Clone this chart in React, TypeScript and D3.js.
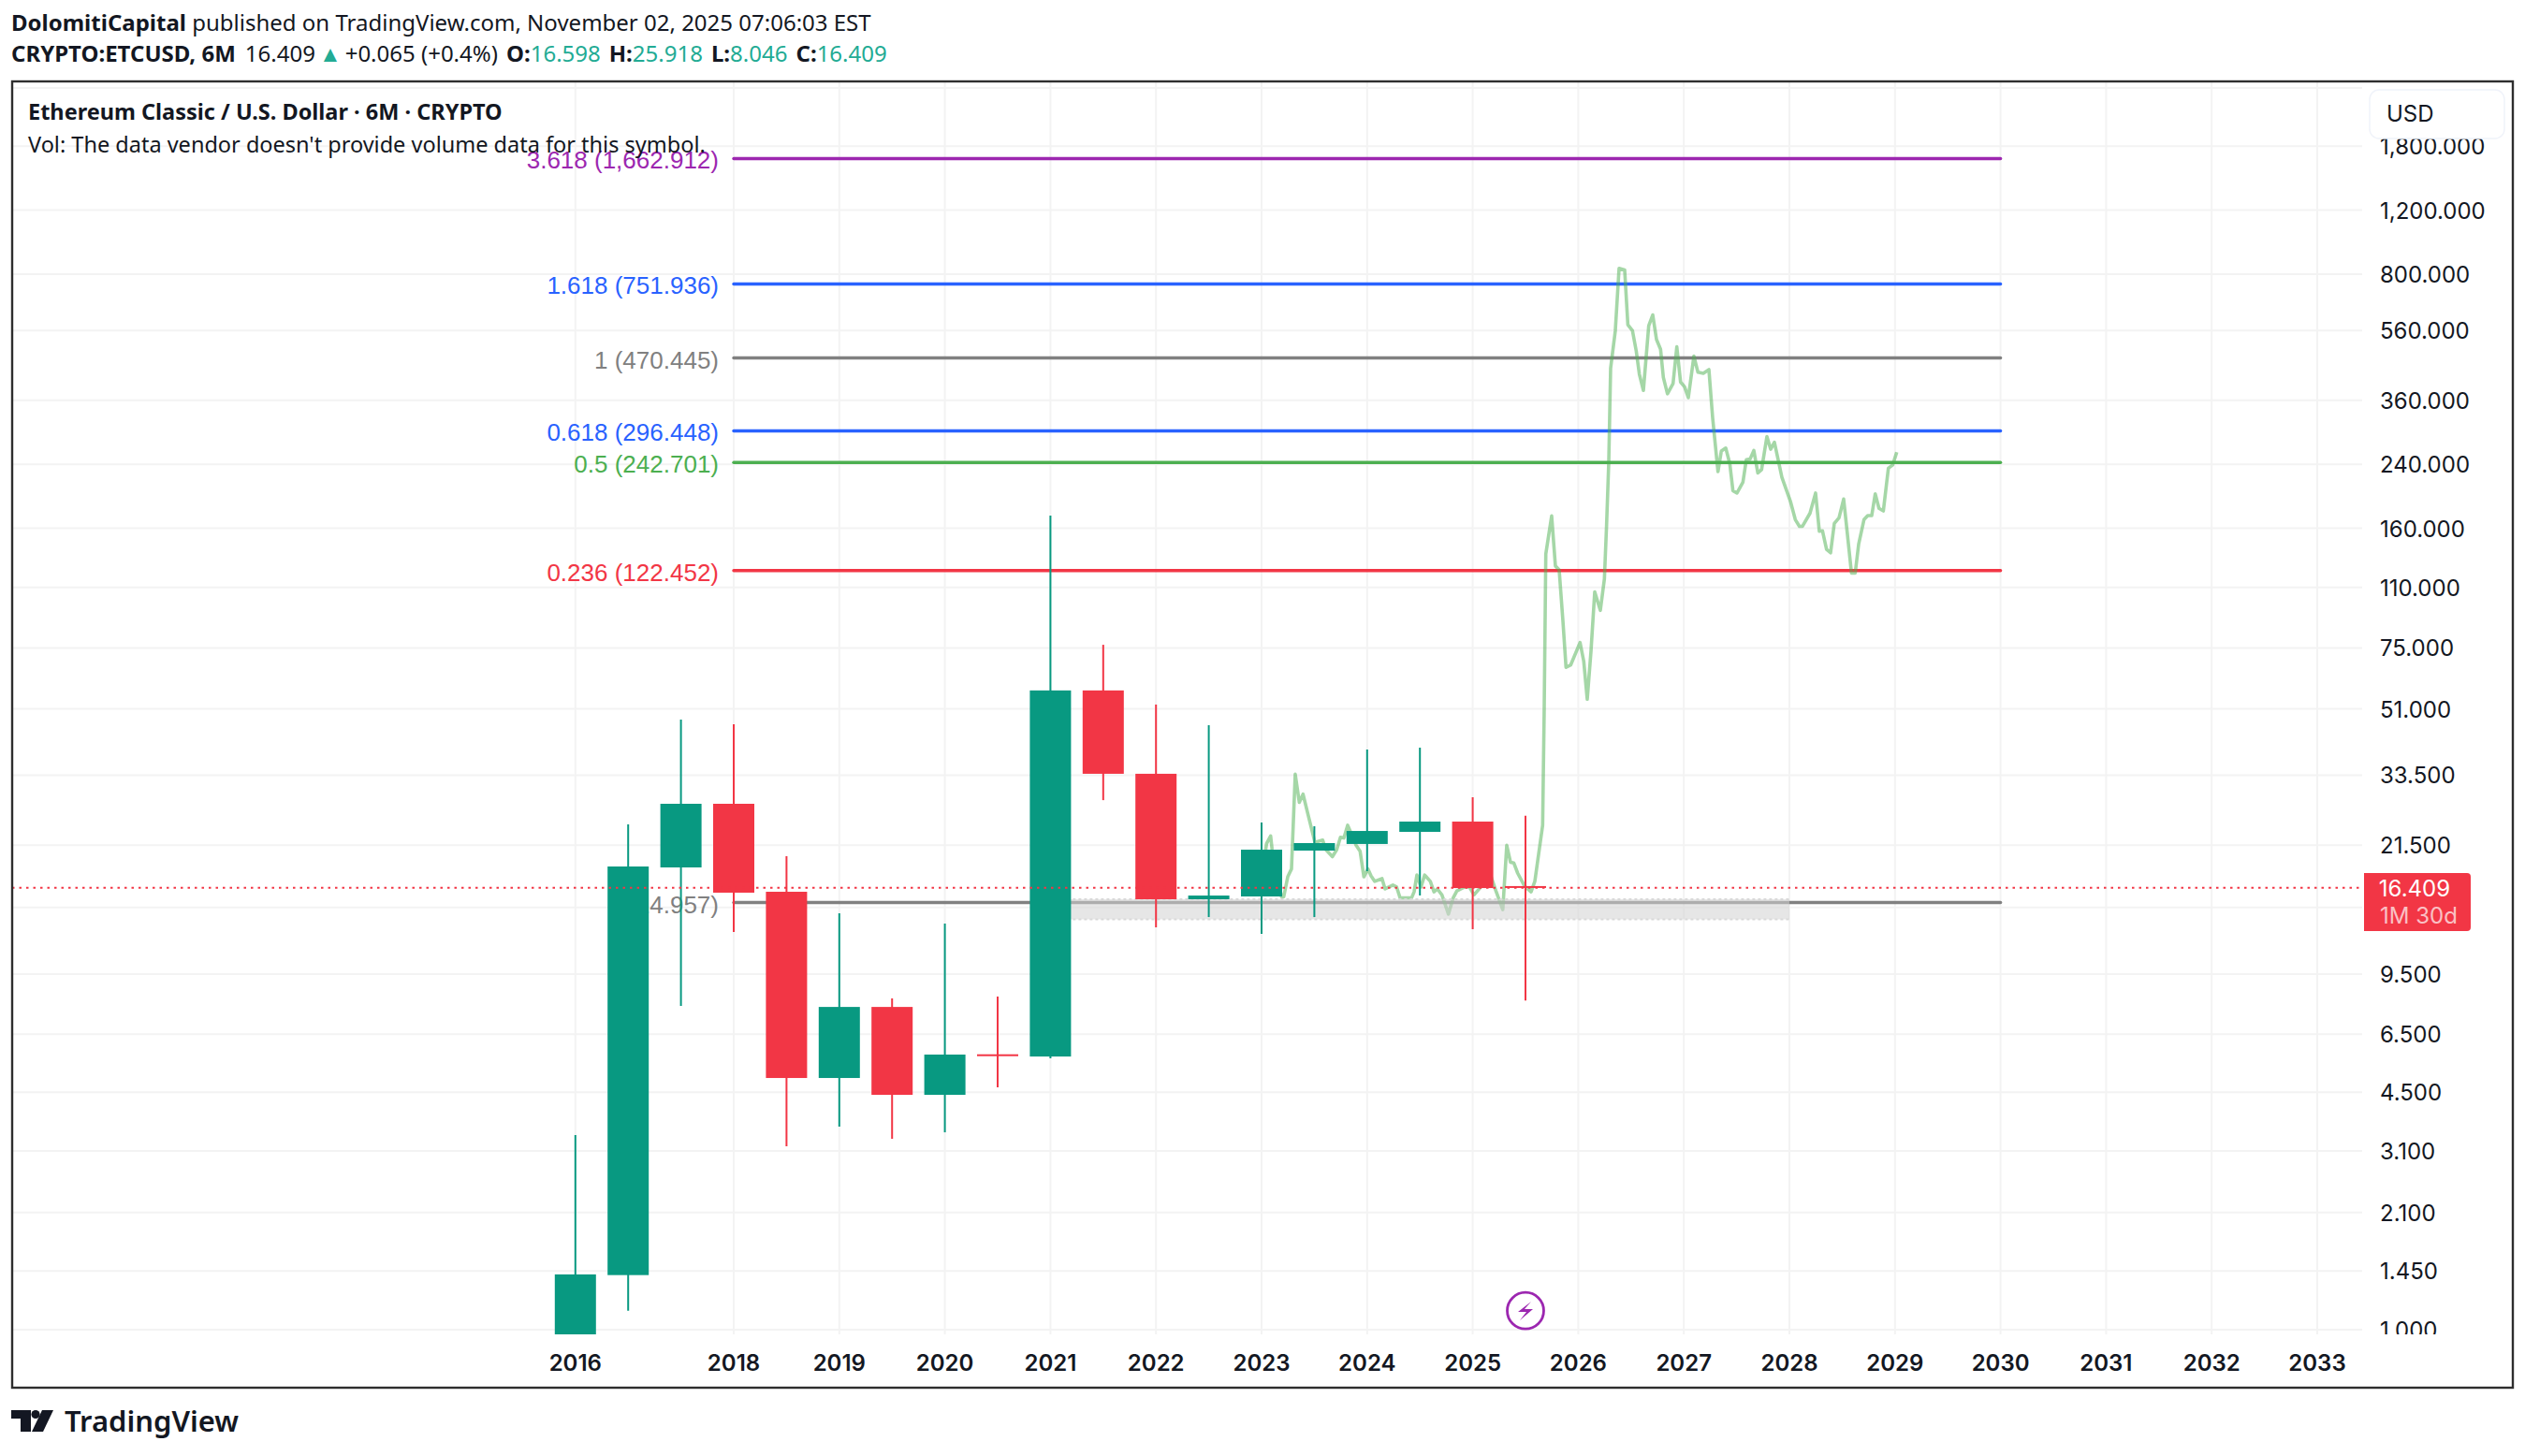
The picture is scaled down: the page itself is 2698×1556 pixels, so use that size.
import React from "react";
import * as d3 from "d3";

const candleOpen = [0.8, 1.413, 18.68, 27.95, 16.01, 4.923, 7.72, 4.425, 5.72, 5.64, 57.3, 33.8, 15.27, 15.54, 20.78, 21.67, 23.4, 24.97, 16.598];
const candleHigh = [3.43, 24.53, 47.65, 46.26, 20.06, 13.97, 8.15, 13.09, 8.25, 173.4, 76.5, 52.4, 45.97, 24.83, 24.24, 39.42, 39.88, 29.13, 25.918];
const candleLow = [0.8, 1.128, 7.77, 12.41, 3.194, 3.618, 3.35, 3.49, 4.64, 5.58, 28.6, 12.78, 13.64, 12.26, 13.64, 18.24, 15.64, 12.63, 8.046];
const candleClose = [1.419, 18.79, 27.95, 15.92, 4.923, 7.72, 4.425, 5.71, 5.68, 57.3, 33.8, 15.27, 15.63, 20.9, 21.79, 23.53, 24.97, 16.39, 16.409];

const ghostT = [13.066,13.094,13.172,13.2,13.378,13.42,13.496,13.567,13.638,13.715,13.786,13.892,14.01,14.158,14.218,14.342,14.424,14.495,14.56,14.631,14.72,14.791,14.867,14.938,15.016,15.074,15.145,15.282,15.34,15.488,15.559,15.624,15.842,15.89,15.943,16.02,16.09,16.197,16.267,16.33,16.417,16.54,16.63,16.7,16.847,16.936,17.025,17.17,17.35,17.44,17.57,17.645,17.716,17.78,17.853,17.982,18.106,18.177,18.325,18.355,18.385,18.496,18.567,18.638,18.709,18.768,18.856,19.034,19.104,19.17,19.24,19.312,19.418,19.495,19.537,19.578,19.613,19.702,19.773,19.879,19.94,20.027,20.098,20.158,20.234,20.335,20.411,20.482,20.559,20.612,20.69,20.796,20.867,20.938,21.014,21.085,21.191,21.267,21.369,21.475,21.546,21.647,21.711,21.794,21.871,21.93,22.007,22.119,22.184,22.255,22.326,22.402,22.473,22.574,22.645,22.716,22.858,23.023,23.112,23.19,23.248,23.39,23.496,23.567,23.626,23.704,23.78,23.851,23.94,24.028,24.087,24.176,24.247,24.312,24.413,24.484,24.56,24.626,24.697,24.78,24.875,24.957,25.034];
const ghostV = [20.3,21.7,22.8,20.9,15.5,15.5,17.6,18.5,33.7,28.2,29.7,25.7,21.9,22.2,20.9,20.0,20.9,22.6,22.5,24.4,22.8,21.5,20.7,17.6,18.5,17.7,17.1,17.4,16.3,16.7,16.5,15.4,15.4,16.0,17.8,16.5,17.8,17.1,16.0,16.3,15.7,13.9,15.4,16.1,16.5,16.5,15.7,16.6,17.6,16.1,14.3,21.5,19.3,19.2,18.0,16.6,16.0,17.1,24.4,51.2,136,173,126,123,89.1,66.3,67.3,77.6,68.9,54.2,73.1,107,95.1,116,164,244,441,559,830,822,580,559,492,424,383,577,618,529,497,416,375,400,505,404,392,366,476,430,427,437,322,229,261,266,241,203,200,214,247,248,262,227,232,286,264,276,221,189,169,162,162,176,200,157,157.5,140,137,165,171,192.5,160,120.5,120.5,144.6,169,173.4,173.4,199,181.5,178.6,234,239,259];

const fibRatios = ["3.618", "1.618", "1", "0.618", "0.5", "0.236", "0"];
const fibPrices = [1662.912, 751.936, 470.445, 296.448, 242.701, 122.452, 14.957];
const fibLabels = ["1,662.912", "751.936", "470.445", "296.448", "242.701", "122.452", "14.957"];
const fibColors = ["#9c27b0", "#2962ff", "#808080", "#2962ff", "#4caf50", "#f23645", "#808080"];

const priceTicks = [2600, 1800, 1200, 800, 560, 360, 240, 160, 110, 75, 51, 33.5, 21.5, 14.5, 9.5, 6.5, 4.5, 3.1, 2.1, 1.45, 1];
const yearLabels = ["2016", "2018", "2019", "2020", "2021", "2022", "2023", "2024", "2025", "2026", "2027", "2028", "2029", "2030", "2031", "2032", "2033"];
const yearBars = [0, 3, 5, 7, 9, 11, 13, 15, 17, 19, 21, 23, 25, 27, 29, 31, 33];

const zoneTop = 15.27;
const zoneBottom = 13.45;
const zoneStartBar = 9;
const zoneEndBar = 23;
const fibStartBar = 3;
const fibEndBar = 27;
const lastPrice = 16.409;
const flashBar = 18;

const UP = "#089981";
const DOWN = "#f23645";
const TEAL = "#22ab94";
const INK = "#131722";
const LEFT = 13, RIGHT = 2685, TOP = 87, BOTTOM = 1483, PANE_R = 2524, PANE_B = 1426;

const y = d3.scaleLog().domain([1, 1000]).range([1421, 1421 - 168.75 * Math.log(1000)]);
const x = d3.scaleLinear().domain([3, 33]).range([784, 2476]);
const tickFmt = d3.format(",.3f");
const ghostLine = d3.line<number>().x((_, i) => x(ghostT[i])).y((v) => y(v));
const UI = "Inter, 'Noto Sans', sans-serif";
const HEAD = "'Noto Sans', sans-serif";

export default function App() {
  return (
    <svg width={2698} height={1556} style={{ position: "absolute", left: 0, top: 0, display: "block", background: "#fff" }}>
      <defs>
        <clipPath id="pane"><rect x={LEFT} y={TOP} width={PANE_R - LEFT} height={PANE_B - TOP} /></clipPath>
        <clipPath id="axisClip"><rect x={PANE_R} y={148} width={RIGHT - PANE_R} height={PANE_B - 148} /></clipPath>
      </defs>

      <text x={12} y={33} fontFamily={HEAD} fontSize={24} fill={INK}>
        <tspan fontWeight={700}>DolomitiCapital</tspan> published on TradingView.com, November 02, 2025 07:06:03 EST
      </text>
      <text x={12} y={66} fontFamily={HEAD} fontSize={24} fill={INK}>
        <tspan fontWeight={700}>CRYPTO:ETCUSD, 6M</tspan>
        <tspan dx={10}>16.409</tspan>
        <tspan dx={4} fill={TEAL}>▲</tspan>
        <tspan dx={4}>+0.065 (+0.4%)</tspan>
        <tspan dx={9} fontWeight={700}>O:</tspan><tspan fill={TEAL}>16.598</tspan>
        <tspan dx={9} fontWeight={700}>H:</tspan><tspan fill={TEAL}>25.918</tspan>
        <tspan dx={9} fontWeight={700}>L:</tspan><tspan fill={TEAL}>8.046</tspan>
        <tspan dx={9} fontWeight={700}>C:</tspan><tspan fill={TEAL}>16.409</tspan>
      </text>

      <g stroke="#f3f3f3" strokeWidth={2}>
        {priceTicks.map((p) => <line key={p} x1={LEFT} x2={PANE_R} y1={y(p)} y2={y(p)} />)}
        {yearBars.map((b) => <line key={b} x1={x(b)} x2={x(b)} y1={TOP} y2={PANE_B} />)}
      </g>

      <g clipPath="url(#pane)">
        {fibPrices.map((p, i) => (
          <g key={p}>
            <line x1={x(fibStartBar)} x2={x(fibEndBar)} y1={y(p)} y2={y(p)} stroke={fibColors[i]} strokeWidth={3.4} strokeLinecap="round" />
            <text x={768} y={y(p) + 11} textAnchor="end" fontFamily="'Liberation Sans', Arial, sans-serif" fontSize={26} fill={fibColors[i]}>
              {`${fibRatios[i]} (${fibLabels[i]})`}
            </text>
          </g>
        ))}
        <path d={ghostLine(ghostV) ?? ""} fill="none" stroke="#4caf50" strokeOpacity={0.5} strokeWidth={3.6} strokeLinejoin="round" />
        <rect x={x(zoneStartBar)} width={x(zoneEndBar) - x(zoneStartBar)} y={y(zoneTop)} height={y(zoneBottom) - y(zoneTop)} fill="rgb(210,210,210)" fillOpacity={0.55} />
        <g stroke="#d9d9d9" strokeWidth={2} strokeDasharray="3 3">
          <line x1={x(zoneStartBar)} x2={x(zoneEndBar)} y1={y(zoneTop)} y2={y(zoneTop)} />
          <line x1={x(zoneStartBar)} x2={x(zoneEndBar)} y1={y(zoneBottom)} y2={y(zoneBottom)} />
        </g>
        {candleOpen.map((o, i) => {
          const c = candleClose[i];
          const col = c >= o ? UP : DOWN;
          const top = y(Math.max(o, c));
          const bot = y(Math.min(o, c));
          return (
            <g key={i}>
              <line x1={x(i)} x2={x(i)} y1={y(candleHigh[i])} y2={y(candleLow[i])} stroke={col} strokeWidth={2} />
              <rect x={x(i) - 22} width={44} y={top} height={Math.max(bot - top, 2)} fill={col} />
            </g>
          );
        })}
        <line x1={LEFT} x2={PANE_R} y1={y(lastPrice)} y2={y(lastPrice)} stroke={DOWN} strokeWidth={2} strokeDasharray="2.5 5" />
      </g>

      <text x={30} y={128} fontFamily={HEAD} fontSize={23.5} fontWeight={700} fill={INK}>Ethereum Classic / U.S. Dollar · 6M · CRYPTO</text>
      <text x={30} y={163} fontFamily={HEAD} fontSize={23.5} fill={INK}>Vol: The data vendor doesn't provide volume data for this symbol.</text>

      <g clipPath="url(#axisClip)" fontFamily={UI} fontSize={24} fill={INK}>
        {priceTicks.map((p) => (
          <text key={p} x={2543} y={y(p) + 9}>{tickFmt(p)}</text>
        ))}
      </g>

      <rect x={2526} y={933} width={114} height={62} rx={4} fill={DOWN} />
      <rect x={2526} y={933} width={8} height={62} fill={DOWN} />
      <text x={2580} y={y(lastPrice) + 9} fontFamily={UI} fontSize={24} fill="#fff" x-data="" >
        <tspan x={2580} textAnchor="middle">16.409</tspan>
      </text>
      <text x={2543} y={987} fontFamily={UI} fontSize={24} fill="#fff" fillOpacity={0.7}>1M 30d</text>

      <rect x={2532} y={96} width={144} height={52} rx={10} fill="#fff" stroke="#f0f3fa" strokeWidth={1.5} />
      <text x={2550} y={130} fontFamily={UI} fontSize={24} fill={INK}>USD</text>

      <g fontFamily={UI} fontSize={24} fontWeight={600} fill={INK} textAnchor="middle">
        {yearBars.map((b, i) => <text key={b} x={x(b)} y={1465}>{yearLabels[i]}</text>)}
      </g>

      <circle cx={x(flashBar)} cy={1400.7} r={19.5} fill="#fff" stroke="#9c27b0" strokeWidth={2.8} />
      <path d={`M${x(flashBar) + 6} ${1391} L${x(flashBar) - 8} ${1402} L${x(flashBar) + 1} ${1402} L${x(flashBar) - 6} ${1411} L${x(flashBar) + 8} ${1399} L${x(flashBar) - 1} ${1399} Z`} fill="#9c27b0" />

      <rect x={LEFT} y={TOP} width={RIGHT - LEFT} height={BOTTOM - TOP} fill="none" stroke="#2e2e2e" strokeWidth={2.4} />

      <g fill={INK}>
        <path d="M12 1507H33V1530H22V1516H12Z" />
        <circle cx={38} cy={1511.5} r={4.6} />
        <path d="M45 1507H57L46 1530H34Z" />
      </g>
      <text x={69} y={1530} fontFamily={HEAD} fontSize={31} fontWeight={600} fill={INK}>TradingView</text>
    </svg>
  );
}
